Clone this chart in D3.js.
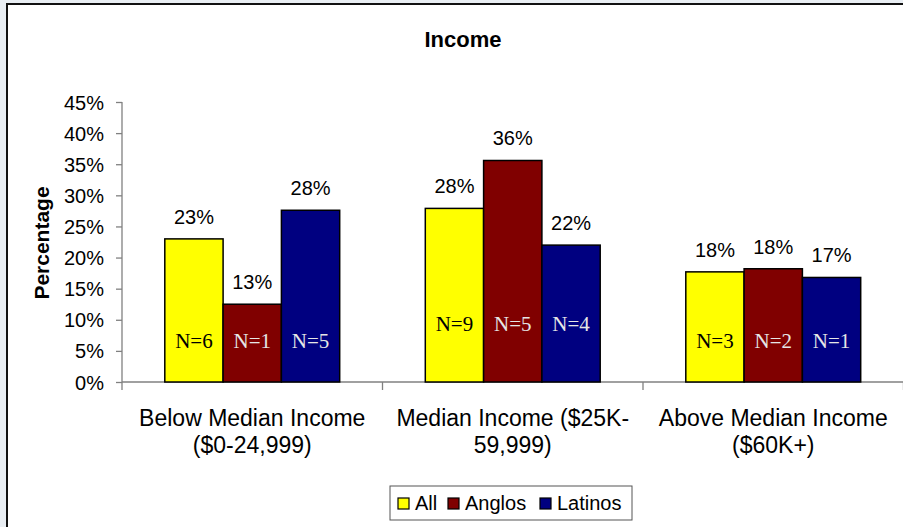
<!DOCTYPE html>
<html>
<head>
<meta charset="utf-8">
<script src="https://cdn.jsdelivr.net/npm/d3@7"></script>
<style>
html,body{margin:0;padding:0;background:#e9eef3;}
svg{display:block;}
</style>
</head>
<body>
<script>
const categories = [["Below Median Income","($0-24,999)"],["Median Income ($25K-","59,999)"],["Above Median Income","($60K+)"]];
const seriesNames = ["All","Anglos","Latinos"];
const seriesColors = ["#ffff00","#800000","#000080"];
const allValues = [23.0, 27.9, 17.7];
const angloValues = [12.5, 35.6, 18.2];
const latinoValues = [27.6, 22.0, 16.8];
const pctLabels = [["23%","13%","28%"],["28%","36%","22%"],["18%","18%","17%"]];
const nLabels = [["N=6","N=1","N=5"],["N=9","N=5","N=4"],["N=3","N=2","N=1"]];
const yTicks = [0,5,10,15,20,25,30,35,40,45];
const nLabelLevel = [6.6, 9.3, 6.6];

const W = 903, H = 527;
const SANS = "Liberation Sans, Arial, sans-serif";
const svg = d3.select("body").append("svg").attr("width", W).attr("height", H);

// frame
svg.append("rect").attr("x",0).attr("y",0).attr("width",W).attr("height",H).attr("fill","#e9eef3");
svg.append("rect").attr("x",7).attr("y",4).attr("width",W).attr("height",H).attr("fill","#fff");
svg.append("line").attr("x1",7).attr("x2",7).attr("y1",3).attr("y2",H).attr("stroke","#111").attr("stroke-width",2);
svg.append("line").attr("x1",6).attr("x2",W).attr("y1",4).attr("y2",4).attr("stroke","#111").attr("stroke-width",2);

const x0 = 122, x1 = 903.5, yTop = 102, yBot = 382;
const x = d3.scaleBand().domain([0,1,2]).range([x0, x1]);
const y = d3.scaleLinear().domain([0,45]).range([yBot, yTop]);
const barW = 58.3;
const xs = d3.scaleBand().domain([0,1,2]).range([-barW*1.5, barW*1.5]);

const data = [allValues, angloValues, latinoValues];

// title
svg.append("text").attr("x",463).attr("y",47).attr("text-anchor","middle")
  .attr("font-family",SANS).attr("font-weight","bold").attr("font-size",22)
  .text("Income");

// y axis title
svg.append("text").attr("transform","translate(49,243) rotate(-90)").attr("text-anchor","middle")
  .attr("font-family",SANS).attr("font-weight","bold").attr("font-size",21)
  .text("Percentage");

// y axis
const yAxis = d3.axisLeft(y).tickValues(yTicks).tickFormat(d => d + "%").tickSize(6).tickSizeOuter(0);
const gy = svg.append("g").attr("transform",`translate(${x0},0)`).call(yAxis);
gy.select(".domain").attr("stroke","#808080").attr("stroke-width",1.3);
gy.selectAll(".tick line").attr("stroke","#808080").attr("stroke-width",1.3);
gy.selectAll(".tick text").attr("font-family",SANS).attr("font-size",20).attr("fill","#000").attr("x",-18).attr("dy","0.35em");
gy.select(".domain").attr("d",`M0,${yTop}V${yBot+8}`);

// x axis
svg.append("line").attr("x1",x0).attr("x2",x1).attr("y1",yBot).attr("y2",yBot).attr("stroke","#808080").attr("stroke-width",1.3);
[0,1,2].forEach(i=>{
  const bx = x(i)+x.bandwidth();
  svg.append("line").attr("x1",bx).attr("x2",bx).attr("y1",yBot).attr("y2",yBot+8).attr("stroke","#808080").attr("stroke-width",1.3);
});

// bars
[0,1,2].forEach(ci=>{
  const cx = x(ci) + x.bandwidth()/2;
  [0,1,2].forEach(si=>{
    const v = data[si][ci];
    const bx = cx + xs(si);
    svg.append("rect").attr("x",bx).attr("y",y(v)).attr("width",barW).attr("height",yBot-y(v))
      .attr("fill",seriesColors[si]).attr("stroke","#000").attr("stroke-width",1.5);
    svg.append("text").attr("x",bx+barW/2).attr("y",y(v)-22).attr("text-anchor","middle").attr("dy","0.35em")
      .attr("font-family",SANS).attr("font-size",20).text(pctLabels[ci][si]);
    svg.append("text").attr("x",bx+barW/2).attr("y",y(nLabelLevel[ci])).attr("text-anchor","middle").attr("dy","0.35em")
      .attr("font-family","Liberation Serif, Times New Roman, serif").attr("font-size",21)
      .attr("fill", si===0 ? "#000" : "#e6e6e6").text(nLabels[ci][si]);
  });
  categories[ci].forEach((line,li)=>{
    svg.append("text").attr("x",cx).attr("y",418+li*27).attr("text-anchor","middle").attr("dy","0.35em")
      .attr("font-family",SANS).attr("font-size",23).text(line);
  });
});

// legend
const lg = svg.append("g");
lg.append("rect").attr("x",390).attr("y",486).attr("width",242).attr("height",34).attr("fill","#fff").attr("stroke","#555").attr("stroke-width",1);
const legX = [398, 448, 540];
seriesNames.forEach((n,i)=>{
  lg.append("rect").attr("x",legX[i]).attr("y",498).attr("width",11).attr("height",11).attr("fill",seriesColors[i]).attr("stroke","#000").attr("stroke-width",1.2);
  lg.append("text").attr("x",legX[i]+17).attr("y",503).attr("dy","0.35em")
    .attr("font-family",SANS).attr("font-size",20).text(n);
});
</script>
</body>
</html>
